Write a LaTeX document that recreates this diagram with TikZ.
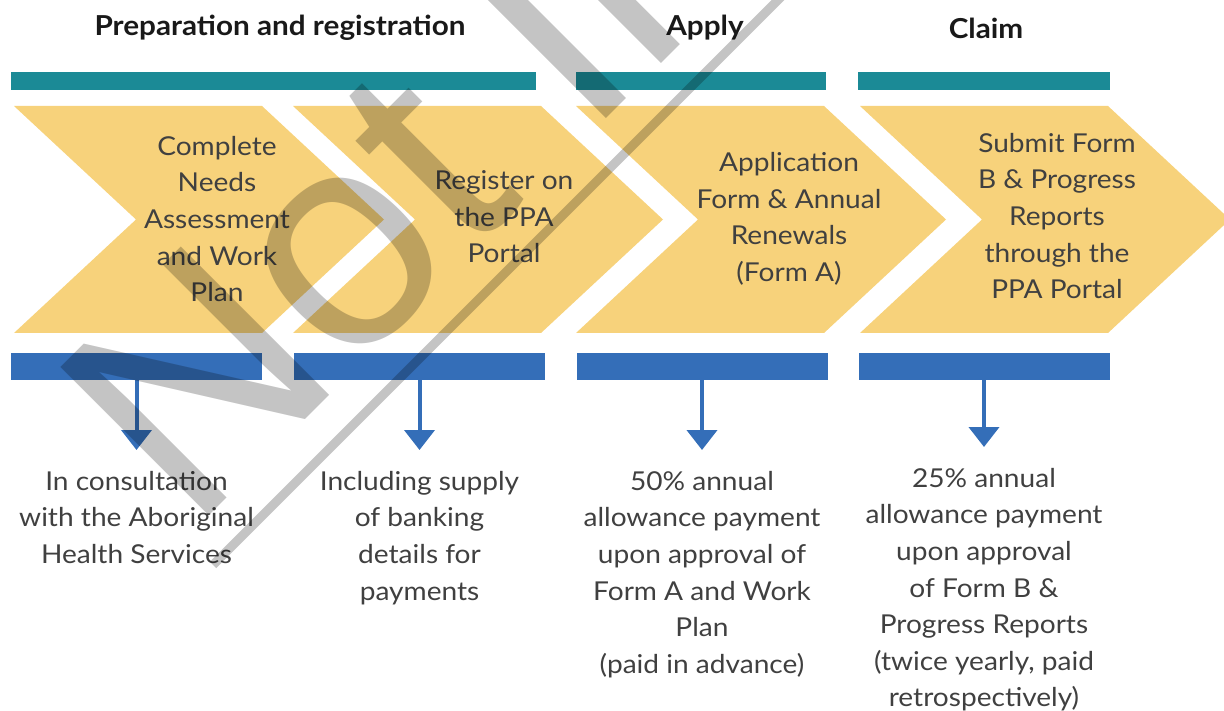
\documentclass[tikz,border=0pt]{standalone}
\usepackage{fontspec}
\setmainfont{Lato}[FakeStretch=1.08]
\newfontfamily\markfont{Liberation Sans}
\usetikzlibrary{arrows.meta}
\definecolor{chevyellow}{RGB}{247,210,123}
\definecolor{barteal}{RGB}{27,138,150}
\definecolor{barblue}{RGB}{52,110,184}
\definecolor{textgray}{RGB}{64,64,64}
\begin{document}
\begin{tikzpicture}[x=1pt, y=-1pt, font=\fontsize{26}{36.6}\selectfont,
    chev/.style={fill=chevyellow},
    tealbar/.style={fill=barteal},
    bluebar/.style={fill=barblue, minimum width=251pt, minimum height=27pt, inner sep=0pt},
    steptext/.style={align=center, text=textgray, inner sep=0pt},
    note/.style={align=center, text=textgray, anchor=north, inner sep=0pt},
    phase/.style={font=\fontsize{27.5}{30}\selectfont\bfseries, text=black!90},
    down/.style={-{Triangle[width=30pt,length=20pt]}, line width=4pt, barblue, shorten >=21pt},
    wmark/.style={font=\fontsize{305}{305}\selectfont\markfont, text=black, text opacity=.23, inner sep=0pt}]
  \useasboundingbox (0,0) rectangle (1224,711);
  % phases
  \node[phase] (prep) at (280,28) {Preparation and registration};
  \node[phase] (apply) at (705,28) {Apply};
  \node[phase] (claim) at (986,28) {Claim};
  \fill[tealbar] (11,72) rectangle (536,90);
  \fill[tealbar] (576,72) rectangle (826,90);
  \fill[tealbar] (858,72) rectangle (1110,90);
  % chevrons
  \foreach \x in {14,293,576,860}
    \fill[chev] (\x,106) -- ++(248,0) -- ++(122,113.5) -- ++(-122,113.5) -- ++(-248,0) -- ++(122,-113.5) -- cycle;
  \node[steptext] (step1) at (217,219) {Complete\\Needs\\Assessment\\and Work\\Plan};
  \node[steptext] (step2) at (504,217) {Register on\\the PPA\\Portal};
  \node[steptext] (step3) at (789,219) {Application\\Form \& Annual\\Renewals\\(Form A)};
  \node[steptext] (step4) at (1057,216) {Submit Form\\B \& Progress\\Reports\\through the\\PPA Portal};
  % payments
  \foreach \x/\n in {136.5/1,419.5/2,702/3,984/4}
    \node[bluebar] (bar\n) at (\x,366.5) {};
  \node[note] (note1) at (bar1 |- 0,471) {In consultation\\with the Aboriginal\\Health Services};
  \node[note] (note2) at (bar2 |- 0,471) {Including supply\\of banking\\details for\\payments};
  \node[note] (note3) at (bar3 |- 0,471) {50\% annual\\allowance payment\\upon approval of\\Form A and Work\\Plan\\(paid in advance)};
  \node[note] (note4) at (bar4 |- 0,468) {25\% annual\\allowance payment\\upon approval\\of Form B \&\\Progress Reports\\(twice yearly, paid\\retrospectively)};
  \foreach \n in {1,...,4}
    \draw[down] (bar\n.south) -- (bar\n.south |- note\n.north);
  % watermark
  \node[wmark, rotate=45, anchor=base west] (wm) at (191,534) {Not In};
  \draw[black, opacity=.23, line width=9pt] (213,565) -- (800,-22);
\end{tikzpicture}
\end{document}
